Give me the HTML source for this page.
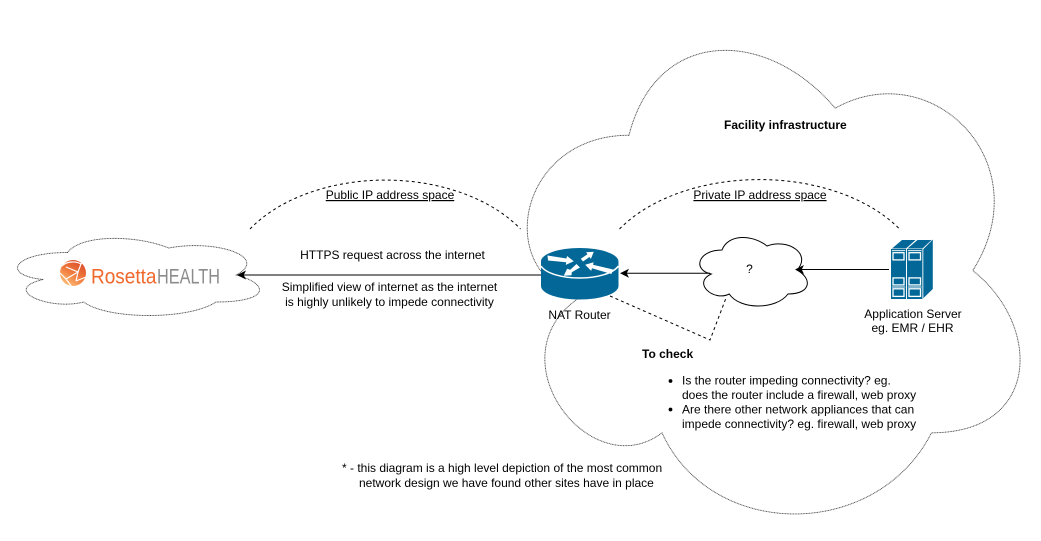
<!DOCTYPE html>
<html>
<head>
<meta charset="utf-8">
<style>
html,body{margin:0;padding:0;background:#fff;width:1041px;height:541px;overflow:hidden}
svg{display:block}
text{font-family:"Liberation Sans",Arial,sans-serif;font-size:12px;fill:#000}
.m{text-anchor:middle}
.b{font-weight:bold}
.u{text-decoration:underline}
</style>
</head>
<body>
<svg width="1041" height="541" viewBox="0 0 1041 541" xmlns="http://www.w3.org/2000/svg">
<defs>
<linearGradient id="rg" x1="0.2" y1="1" x2="0.8" y2="0">
<stop offset="0" stop-color="#fdc27a"/><stop offset="0.5" stop-color="#f0793c"/><stop offset="1" stop-color="#d9482b"/>
</linearGradient>
</defs>

<!-- big cloud -->
<path transform="translate(491.5,0) scale(5.5,5.41)" vector-effect="non-scaling-stroke" fill="none" stroke="#444" stroke-width="0.9" stroke-dasharray="1 0.6" d="M25 25C5 25 0 50 16 55C0 66 18 90 31 80C40 100 70 100 80 80C100 80 100 60 87.5 50C100 30 80 10 62.5 20C50 5 30 5 25 25Z"/>

<!-- left cloud -->
<path transform="translate(0,230) scale(2.7,0.9)" vector-effect="non-scaling-stroke" fill="none" stroke="#444" stroke-width="0.9" stroke-dasharray="1 0.6" d="M25 25C5 25 0 50 16 55C0 66 18 90 31 80C40 100 70 100 80 80C100 80 100 60 87.5 50C100 30 80 10 62.5 20C50 5 30 5 25 25Z"/>

<!-- middle cloud -->
<path transform="translate(692,230) scale(1.2,0.8)" vector-effect="non-scaling-stroke" fill="#fff" stroke="#000" stroke-width="1" d="M25 25C5 25 0 50 16 55C0 66 18 90 31 80C40 100 70 100 80 80C100 80 100 60 87.5 50C100 30 80 10 62.5 20C50 5 30 5 25 25Z"/>

<!-- dashed arcs -->
<path d="M250 229A160 105 0 0 1 520.5 229" fill="none" stroke="#000" stroke-width="1" stroke-dasharray="3 3"/>
<path d="M619.5 229A165 105 0 0 1 899.5 229" fill="none" stroke="#000" stroke-width="1" stroke-dasharray="3 3"/>

<!-- connectors -->
<path d="M541 275H243" stroke="#000" stroke-width="1" fill="none"/>
<path d="M237 275L246 270.5L243.7 275L246 279.5Z" fill="#000"/>
<path d="M710 273.3H626" stroke="#000" stroke-width="1" fill="none"/>
<path d="M620 273.3L629 268.8L626.7 273.3L629 277.8Z" fill="#000"/>
<path d="M889 269.5H801" stroke="#000" stroke-width="1" fill="none"/>
<path d="M795 269.5L804 265L801.7 269.5L804 274Z" fill="#000"/>
<path d="M610 296L710 340L726 298" fill="none" stroke="#000" stroke-width="1" stroke-dasharray="3 3"/>

<!-- router -->
<path d="M541 261.5V286C541 293.5 558 299.5 579.5 299.5C601 299.5 618.5 293.5 618.5 286V261.5Z" fill="#036897"/>
<ellipse cx="579.7" cy="261.5" rx="38.8" ry="13.5" fill="#036897"/>
<path d="M541 266C546 273.5 562 278 579.5 278C597 278 613 273.5 618.5 266" fill="none" stroke="#fff" stroke-width="1.5"/>
<g fill="#fff">
<path d="M547.5 255.5L566.5 258.5L567 256L573.8 261.3L565.8 264.9L566.2 262.2L548 260.5Z"/>
<path d="M580.8 258.8L587.5 254.2L586.1 252.2L593.8 251.7L590.9 258.9L589.4 257L583 261.5Z"/>
<path d="M613 269.5L593 264.8L593.6 262.3L585.2 264.7L591.2 270.9L592 268.3L611.5 274Z"/>
<path d="M576.5 264L570.2 269.8L567.1 268.7L563.8 275.8L571.5 275.3L571.8 272.2L580 267.5Z"/>
</g>

<!-- server -->
<path d="M923 249.5L932.8 239.5V289L923 298.5Z" fill="#036897"/>
<path d="M892 248.5L902 240H915.5L906 248.5Z" fill="#036897"/>
<path d="M907.5 248.5L917.5 240H931.5L922.5 248.5Z" fill="#036897"/>
<g fill="#036897">
<rect x="891" y="249" width="15" height="50"/>
<rect x="907" y="249" width="15.5" height="50"/>
</g>
<g fill="#fff">
<rect x="906" y="248.5" width="1" height="51"/>
<rect x="922.4" y="248.5" width="0.9" height="51"/>
<rect x="891.9" y="250.2" width="13.3" height="0.9"/><rect x="907.9" y="250.2" width="13.7" height="0.9"/>
<rect x="891.9" y="286.5" width="13.3" height="1"/><rect x="907.9" y="286.5" width="13.7" height="1"/>
</g>
<g fill="#036897" stroke="#fff" stroke-width="1.3">
<rect x="893" y="252.7" width="11" height="7.2"/><rect x="909" y="252.7" width="11.5" height="7.2"/>
<rect x="893" y="277.9" width="11" height="7"/><rect x="909" y="277.9" width="11.5" height="7"/>
<rect x="893" y="288.8" width="11" height="7.6"/><rect x="909" y="288.8" width="11.5" height="7.6"/>
</g>

<!-- logo -->
<circle cx="73" cy="273" r="13" fill="url(#rg)"/>
<g fill="none" stroke="#fff" stroke-width="1.2">
<path d="M62 266C67 261 76 261 81 264L78 272L66 279L60 273"/>
<path d="M66 267L78 272L76 281"/>
<path d="M66 279L72 287"/>
<path d="M76 281L86 277"/>
<path d="M81 264L84 258"/>
</g>
<text x="91" y="283.5" style="font-size:21px;fill:#f0682c" textLength="65.5" lengthAdjust="spacingAndGlyphs">Rosetta</text>
<text x="157" y="283.5" style="font-size:21px;fill:#8c8c8c" textLength="63" lengthAdjust="spacingAndGlyphs">HEALTH</text>

<!-- labels -->
<text class="b" x="724" y="129">Facility infrastructure</text>
<text class="m u" x="390" y="199">Public IP address space</text>
<text class="m u" x="760" y="199">Private IP address space</text>
<text class="m" x="392.5" y="259">HTTPS request across the internet</text>
<text class="m" x="389.5" y="291">Simplified view of internet as the internet</text>
<text class="m" x="389.5" y="306">is highly unlikely to impede connectivity</text>
<text class="m" x="579.5" y="319">NAT Router</text>
<text class="m" x="749.5" y="273">?</text>
<text class="m" x="913" y="318">Application Server</text>
<text class="m" x="912.5" y="332">eg. EMR / EHR</text>
<text class="b" x="642" y="358">To check</text>
<circle cx="670.5" cy="381" r="1.9" fill="#000"/>
<circle cx="670.5" cy="409.5" r="1.9" fill="#000"/>
<text x="682" y="384.5">Is the router impeding connectivity? eg.</text>
<text x="682" y="399">does the router include a firewall, web proxy</text>
<text x="682" y="413.5">Are there other network appliances that can</text>
<text x="682" y="428">impede connectivity? eg. firewall, web proxy</text>
<text x="342" y="472">* - this diagram is a high level depiction of the most common</text>
<text x="359" y="487">network design we have found other sites have in place</text>
</svg>
</body>
</html>
